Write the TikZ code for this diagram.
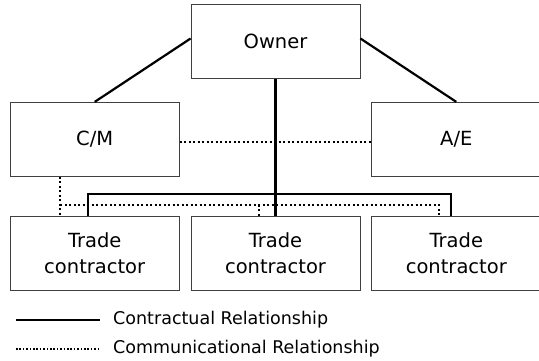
\documentclass[tikz,border=0pt]{standalone}
\usepackage{fontspec}
\setmainfont{DejaVu Sans}
\usetikzlibrary{positioning}

\tikzset{
  party/.style={draw=black!75, line width=0.8pt, minimum width=169pt, minimum height=74pt,
    align=center, inner sep=0pt, font=\fontsize{19.5}{26}\selectfont},
  contract/.style={line width=2.2pt},
  comm/.style={line width=2.2pt, dash pattern=on 2.1pt off 2.4pt},
  keytext/.style={anchor=west, inner sep=0pt, font=\fontsize{17.5}{20}\selectfont}
}

\begin{document}
\begin{tikzpicture}[x=1pt,y=-1pt]
  \useasboundingbox (0,0) rectangle (539,361);

  \node[party] (owner) at (275.5,41.5) {Owner};
  \node[party, below left=23pt and 11pt of owner.south west, anchor=north east] (cm) {C/M};
  \node[party, below right=23pt and 11pt of owner.south east, anchor=north west] (ae) {A/E};
  \node[party, below=39pt of cm] (tc1) {Trade\\contractor};
  \node[party, below=39pt of ae] (tc3) {Trade\\contractor};
  \node[party, right=11pt of tc1] (tc2) {Trade\\contractor};

  % contractual links
  \draw[contract] ([yshift=3pt]owner.west) -- (cm.north);
  \draw[contract] ([yshift=3pt]owner.east) -- (ae.north);
  \draw[contract] (owner.south) -- (tc2.north);
  \draw[contract] ([xshift=-6.5pt]tc1.north) |- ([yshift=22pt]tc2.north)
    -| ([xshift=-5.5pt]tc3.north);

  % communication links
  \draw[comm] ([yshift=-3pt]cm.east) -- ([yshift=-3pt]ae.west);
  \draw[comm] ([xshift=-34.5pt]cm.south) -- ([xshift=-34.5pt]tc1.north);
  \draw[comm] ([xshift=-34.5pt,yshift=11pt]tc1.north) -| ([xshift=-17.5pt]tc3.north);
  \draw[comm] ([xshift=-16.5pt,yshift=11pt]tc2.north) -- ([xshift=-16.5pt]tc2.north);

  % key
  \node[keytext] (key1) at (113,320) {Contractual Relationship};
  \node[keytext] (key2) at (113,349) {Communicational Relationship};
  \coordinate (k1) at (16,320);
  \coordinate (k2) at (16,349);
  \draw[line width=2pt] (k1) -- ([xshift=-13pt]key1.west);
  \draw[line width=1.5pt, dash pattern=on 1.5pt off 1.9pt] (k2) -- ([xshift=-13pt]key2.west);
\end{tikzpicture}
\end{document}
